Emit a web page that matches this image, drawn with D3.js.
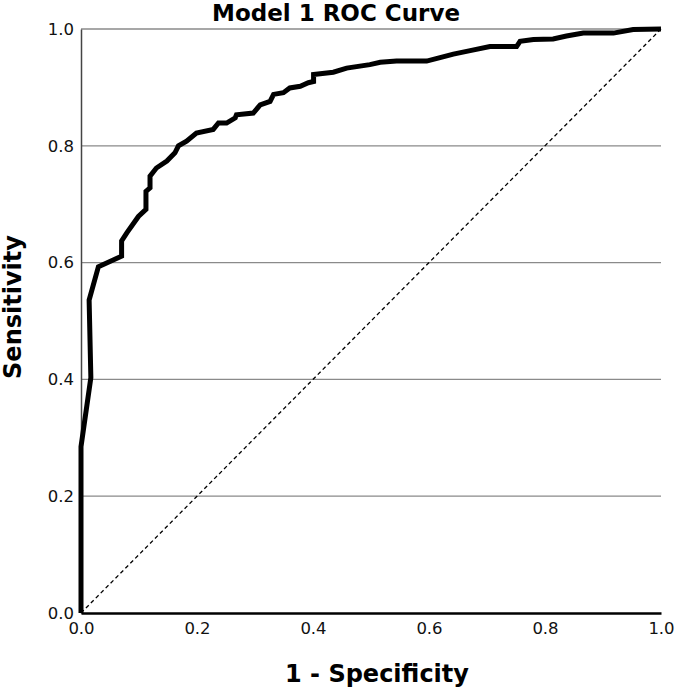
<!DOCTYPE html>
<html>
<head>
<meta charset="utf-8">
<script src="https://cdn.jsdelivr.net/npm/d3@7"></script>
<style>
  body { margin: 0; background: #fff; }
  text { font-family: "DejaVu Sans", Verdana, sans-serif; }
</style>
</head>
<body>
<div id="wrapper"></div>
<script>
// ROC points (1 - specificity, sensitivity)
const fpr = [0, 0, 0.017, 0.014, 0.030, 0.070, 0.070, 0.079, 0.099, 0.112, 0.112, 0.119, 0.119,
    0.130, 0.148, 0.162, 0.168, 0.182, 0.199, 0.228, 0.237, 0.251, 0.266, 0.268, 0.297, 0.309,
    0.326, 0.332, 0.349, 0.360, 0.378, 0.392, 0.401, 0.401, 0.435, 0.458, 0.498, 0.516, 0.544,
    0.596, 0.619, 0.642, 0.671, 0.705, 0.751, 0.757, 0.780, 0.814, 0.837, 0.866, 0.918, 0.952, 1.0];
const tpr = [0, 0.285, 0.403, 0.536, 0.593, 0.611, 0.637, 0.651, 0.679, 0.691, 0.722, 0.728, 0.748,
    0.762, 0.774, 0.788, 0.800, 0.808, 0.822, 0.828, 0.839, 0.839, 0.848, 0.853, 0.856, 0.870,
    0.876, 0.888, 0.891, 0.899, 0.902, 0.908, 0.910, 0.922, 0.926, 0.933, 0.939, 0.943, 0.945,
    0.945, 0.951, 0.957, 0.963, 0.970, 0.970, 0.979, 0.982, 0.983, 0.988, 0.993, 0.993, 0.999, 1.0];
const tickValues = [0, 0.2, 0.4, 0.6, 0.8, 1.0];

const rocData = fpr.map((x, i) => ({x: x, y: tpr[i]}));

const dimension = {
    width: 680,
    height: 692,
    margin: {top: 29, left: 81, bottom: 79, right: 19}
};
dimension.boundedWidth = dimension.width - dimension.margin.left - dimension.margin.right;
dimension.boundedHeight = dimension.height - dimension.margin.top - dimension.margin.bottom;

const svg = d3.select("#wrapper").append("svg")
    .attr("width", dimension.width)
    .attr("height", dimension.height);

const bounded = svg.append("g")
    .attr("transform", `translate(${dimension.margin.left},${dimension.margin.top})`);

const xScaler = d3.scaleLinear().domain([0, 1]).range([0, dimension.boundedWidth]);
const yScaler = d3.scaleLinear().domain([0, 1]).range([dimension.boundedHeight, 0]);

// horizontal gridlines
bounded.append("g")
    .selectAll("line")
    .data(tickValues.slice(1))
    .join("line")
    .attr("x1", 0)
    .attr("x2", dimension.boundedWidth)
    .attr("y1", d => yScaler(d))
    .attr("y2", d => yScaler(d))
    .attr("stroke", "#8a8a8a")
    .attr("stroke-width", 1.3);

// y axis
const yAxis = d3.axisLeft(yScaler).tickValues(tickValues).tickFormat(d3.format(".1f")).tickSize(0).tickPadding(7);
const yAxisG = bounded.append("g").call(yAxis);
yAxisG.select(".domain").attr("stroke", "#444").attr("stroke-width", 1.5);
yAxisG.selectAll("text").attr("font-size", 16.5).attr("fill", "#111");

// diagonal reference
bounded.append("line")
    .attr("x1", xScaler(0)).attr("y1", yScaler(0))
    .attr("x2", xScaler(1)).attr("y2", yScaler(1))
    .attr("stroke", "#000")
    .attr("stroke-width", 1.3)
    .attr("stroke-dasharray", "4,3");

// ROC curve
const lineGenerator = d3.line()
    .x(d => xScaler(d.x))
    .y(d => yScaler(d.y));
bounded.append("path")
    .attr("d", lineGenerator(rocData))
    .attr("fill", "none")
    .attr("stroke", "#000")
    .attr("stroke-width", 5)
    .attr("stroke-linejoin", "miter");

// x axis
const xAxis = d3.axisBottom(xScaler).tickValues(tickValues).tickFormat(d3.format(".1f")).tickSize(0).tickPadding(9);
const xAxisG = bounded.append("g")
    .attr("transform", `translate(0,${dimension.boundedHeight})`)
    .call(xAxis);
xAxisG.select(".domain").attr("stroke", "#000").attr("stroke-width", 2.5);
xAxisG.selectAll("text").attr("font-size", 16.5).attr("fill", "#111");

// title and labels
svg.append("text")
    .attr("x", 336)
    .attr("y", 21)
    .attr("text-anchor", "middle")
    .attr("font-size", 23)
    .attr("font-weight", "bold")
    .text("Model 1 ROC Curve");

svg.append("text")
    .attr("x", 377)
    .attr("y", 682)
    .attr("text-anchor", "middle")
    .attr("font-size", 24)
    .attr("font-weight", "bold")
    .text("1 - Specificity");

svg.append("text")
    .attr("transform", "rotate(-90)")
    .attr("x", -307)
    .attr("y", 21)
    .attr("text-anchor", "middle")
    .attr("font-size", 24)
    .attr("font-weight", "bold")
    .text("Sensitivity");
</script>
</body>
</html>
